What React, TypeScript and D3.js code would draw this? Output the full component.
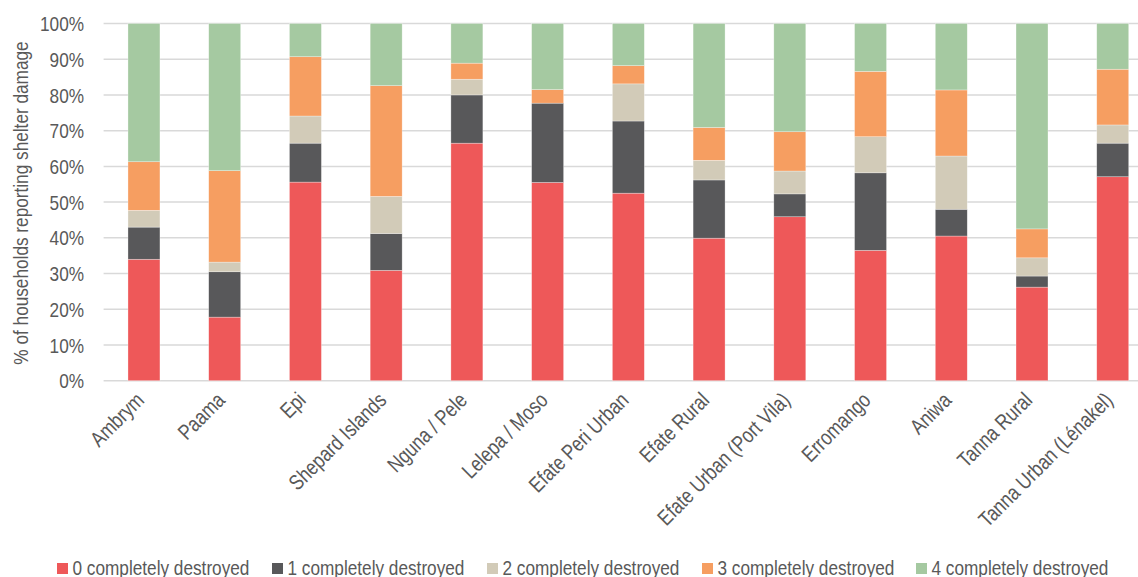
import React from "react";
import * as d3 from "d3";

const categories = [
  "Ambrym",
  "Paama",
  "Epi",
  "Shepard Islands",
  "Nguna / Pele",
  "Lelepa / Moso",
  "Efate Peri Urban",
  "Efate Rural",
  "Efate Urban (Port Vila)",
  "Erromango",
  "Aniwa",
  "Tanna Rural",
  "Tanna Urban (Lénakel)",
];

const seriesNames = [
  "0 completely destroyed",
  "1 completely destroyed",
  "2 completely destroyed",
  "3 completely destroyed",
  "4 completely destroyed",
];

const destroyed0 = [34.0, 17.8, 55.6, 30.9, 66.5, 55.5, 52.5, 39.9, 45.9, 36.5, 40.5, 26.2, 57.1];
const destroyed1 = [9.0, 12.7, 10.9, 10.3, 13.5, 22.2, 20.2, 16.3, 6.4, 21.7, 7.5, 3.1, 9.4];
const destroyed2 = [4.7, 2.7, 7.6, 10.4, 4.4, 0.0, 10.4, 5.5, 6.4, 10.1, 14.9, 5.1, 5.1];
const destroyed3 = [13.6, 25.6, 16.6, 31.0, 4.5, 3.8, 5.1, 9.2, 11.0, 18.3, 18.5, 8.1, 15.6];
const destroyed4 = [38.7, 41.2, 9.3, 17.4, 11.1, 18.5, 11.8, 29.1, 30.3, 13.4, 18.6, 57.5, 12.8];

const yTicks = [0, 10, 20, 30, 40, 50, 60, 70, 80, 90, 100];

const colors = ["#EE5859", "#58585A", "#D2CBB8", "#F69E61", "#A5C9A1"];

const W = 1138;
const H = 577;
const FONT = "'Liberation Sans', Arial, sans-serif";
const TXT = "#595959";
const NARROW = 0.82;

function NText(props: {
  x: number;
  y: number;
  rotate?: number;
  anchor?: "start" | "middle" | "end";
  dy?: string;
  size?: number;
  children: React.ReactNode;
}) {
  const { x, y, rotate = 0, anchor = "start", dy, size = 21, children } = props;
  return (
    <text
      transform={`translate(${x},${y}) rotate(${rotate}) scale(${NARROW},1)`}
      textAnchor={anchor}
      dy={dy}
      fontSize={size}
      fill={TXT}
    >
      {children}
    </text>
  );
}

export default function App() {
  const allSeries = [destroyed0, destroyed1, destroyed2, destroyed3, destroyed4];
  const rows = categories.map((c, i) => {
    const r: any = { cat: c };
    seriesNames.forEach((s, k) => (r[s] = allSeries[k][i]));
    return r;
  });
  const stacked = d3.stack<any>().keys(seriesNames)(rows);

  const x = d3
    .scaleBand<string>()
    .domain(categories)
    .range([103.6, 1153.1])
    .paddingInner(0.604)
    .paddingOuter(0.302);
  const y = d3.scaleLinear().domain([0, 100]).range([380.7, 23.5]);

  const legendX = [57, 272, 487, 702, 916];

  return (
    <svg width={W} height={H} style={{ position: "absolute", left: 0, top: 0 }} fontFamily={FONT}>
      <rect width={W} height={H} fill="#fff" />
      {yTicks.map((t) => (
        <g key={t}>
          <line x1={103.6} x2={W} y1={y(t)} y2={y(t)} stroke="#d9d9d9" strokeWidth={1.5} />
          <NText x={84} y={y(t)} dy="0.36em" anchor="end">
            {t}%
          </NText>
        </g>
      ))}
      {stacked.map((s, k) => (
        <g key={s.key} fill={colors[k]}>
          {s.map((d, i) => {
            const h = y(d[0]) - y(d[1]);
            if (h <= 0) return null;
            return (
              <rect
                key={i}
                x={x(categories[i])}
                width={x.bandwidth()}
                y={y(d[1])}
                height={h}
                stroke="#ffffff"
                strokeOpacity={0.5}
                strokeWidth={0.6}
              />
            );
          })}
        </g>
      ))}
      {categories.map((c) => {
        const cx = (x(c) as number) + x.bandwidth() / 2;
        return (
          <NText key={c} x={cx + 1.5} y={401.5} rotate={-45} anchor="end" size={21.5}>
            {c}
          </NText>
        );
      })}
      <NText x={28} y={203} rotate={-90} anchor="middle">
        % of households reporting shelter damage
      </NText>
      {seriesNames.map((s, k) => (
        <g key={s}>
          <rect x={legendX[k]} y={563} width={11} height={11} fill={colors[k]} />
          <NText x={legendX[k] + 15.5} y={574.5}>
            {s}
          </NText>
        </g>
      ))}
    </svg>
  );
}
